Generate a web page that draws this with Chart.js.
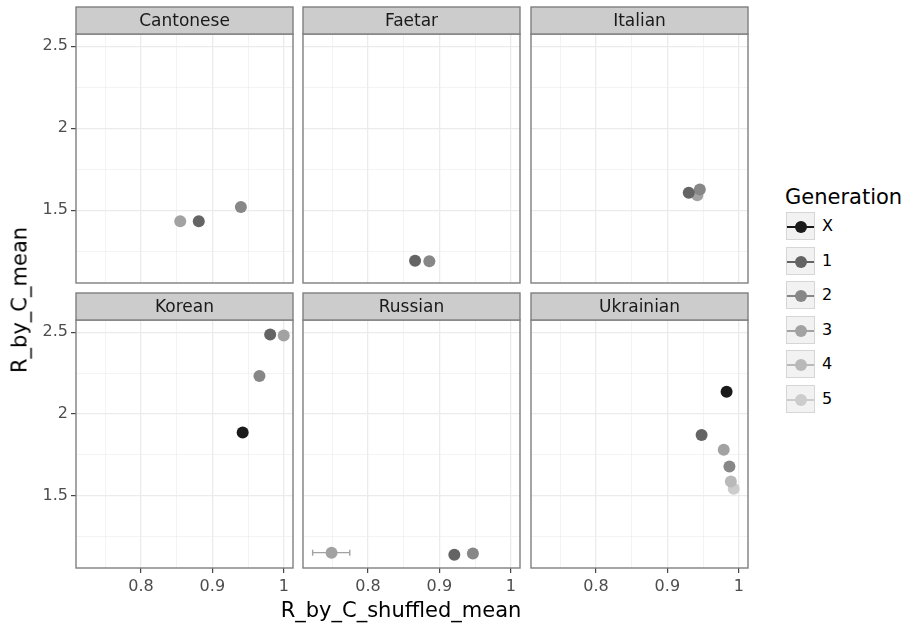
<!DOCTYPE html>
<html>
<head>
<meta charset="utf-8">
<script src="https://cdn.jsdelivr.net/npm/chart.js@4"></script>
<style>
  body { margin: 0; background: #fff; width: 908px; height: 626px; overflow: hidden; position: relative; font-family: "DejaVu Sans", sans-serif; }
  canvas { position: absolute; }
  .txt { position: absolute; white-space: nowrap; line-height: 1; }
  .key { position: absolute; width: 29px; height: 28px; background: #f2f2f2; border: 1px solid #d6d6d6; box-sizing: border-box; }
  .key .ln { position: absolute; left: 0; right: 0; top: 13px; height: 2px; }
  .key .dot { position: absolute; left: 8px; top: 8px; width: 12px; height: 12px; border-radius: 50%; }
</style>
</head>
<body>
<script>
// facets and legend
const languages = ['Cantonese', 'Faetar', 'Italian', 'Korean', 'Russian', 'Ukrainian'];
const generations = ['X', '1', '2', '3', '4', '5'];
const genColors = ['#1a1a1a', '#646464', '#878787', '#a2a2a2', '#b9b9b9', '#cccccc'];

// axis ticks
const xMajor = [0.8, 0.9, 1];
const xMinor = [0.75, 0.85, 0.95];
const yMajor = [1.5, 2, 2.5];
const yMinor = [1.25, 1.75, 2.25];

// values, one set per facet
const cantoneseGen = ['1', '2', '3'];
const cantoneseX = [0.881, 0.940, 0.855];
const cantoneseY = [1.433, 1.520, 1.433];

const faetarGen = ['1', '2'];
const faetarX = [0.866, 0.886];
const faetarY = [1.192, 1.188];

const italianGen = ['1', '2', '3'];
const italianX = [0.930, 0.9455, 0.942];
const italianY = [1.606, 1.627, 1.592];

const koreanGen = ['X', '1', '2', '3'];
const koreanX = [0.9425, 0.981, 0.966, 1.0];
const koreanY = [1.886, 2.486, 2.232, 2.480];

const russianGen = ['1', '2', '3'];
const russianX = [0.921, 0.947, 0.749];
const russianY = [1.137, 1.145, 1.150];
const russianXLow = [0.921, 0.947, 0.7225];
const russianXHigh = [0.921, 0.947, 0.7745];

const ukrainianGen = ['X', '1', '2', '3', '4', '5'];
const ukrainianX = [0.983, 0.948, 0.987, 0.979, 0.989, 0.993];
const ukrainianY = [2.136, 1.870, 1.677, 1.780, 1.586, 1.541];

const panels = [
  { gen: cantoneseGen, x: cantoneseX, y: cantoneseY },
  { gen: faetarGen, x: faetarX, y: faetarY },
  { gen: italianGen, x: italianX, y: italianY },
  { gen: koreanGen, x: koreanX, y: koreanY },
  { gen: russianGen, x: russianX, y: russianY, lo: russianXLow, hi: russianXHigh },
  { gen: ukrainianGen, x: ukrainianX, y: ukrainianY }
];

// layout
const colLeft = [76, 303, 531];
const panelW = 217;
const stripTop = [7, 293];
const stripH = 27;
const panelH = [249, 248];
const pad = 7; // must exceed the point overflow chart.js reserves

const isIn = (arr, v) => arr.some(a => Math.abs(a - v) < 1e-6);

const stripPlugin = {
  id: 'strip',
  beforeDatasetsDraw(chart) {
    const { ctx } = chart;
    const p = chart.options.plugins.strip;
    if (!p.lo) return;
    const xs = chart.scales.x, ys = chart.scales.y;
    ctx.save();
    ctx.lineWidth = 1.4;
    p.lo.forEach((lo, i) => {
      const hi = p.hi[i];
      if (hi - lo < 1e-6) return;
      const y = ys.getPixelForValue(p.yv[i]);
      const x0 = xs.getPixelForValue(lo), x1 = xs.getPixelForValue(hi);
      ctx.strokeStyle = genColors[generations.indexOf(p.gen[i])];
      ctx.beginPath();
      ctx.moveTo(x0, y); ctx.lineTo(x1, y);
      ctx.moveTo(x0, y - 3); ctx.lineTo(x0, y + 3);
      ctx.moveTo(x1, y - 3); ctx.lineTo(x1, y + 3);
      ctx.stroke();
    });
    ctx.restore();
  },
  afterDraw(chart) {
    const { ctx, chartArea: a } = chart;
    const p = chart.options.plugins.strip;
    ctx.save();
    ctx.strokeStyle = '#7f7f7f';
    ctx.lineWidth = 1.4;
    ctx.strokeRect(a.left, a.top, a.width, a.height);
    ctx.fillStyle = '#cccccc';
    ctx.fillRect(a.left, a.top - stripH, a.width, stripH);
    ctx.strokeRect(a.left, a.top - stripH, a.width, stripH);
    ctx.fillStyle = '#1a1a1a';
    ctx.font = '17px "DejaVu Sans"';
    ctx.textAlign = 'center';
    ctx.textBaseline = 'middle';
    ctx.fillText(p.text, (a.left + a.right) / 2, a.top - stripH / 2 + 1);
    ctx.restore();
  }
};

panels.forEach((pn, idx) => {
  const row = Math.floor(idx / 3), col = idx % 3;
  const showY = col === 0, showX = row === 1;
  const yAxisW = showY ? colLeft[0] : pad;
  const xAxisH = showX ? 34 : pad;
  const left = showY ? 0 : colLeft[col] - pad;
  const top = stripTop[row] - pad;
  const w = yAxisW + panelW + pad;
  const h = pad + stripH + panelH[row] + xAxisH;

  const cv = document.createElement('canvas');
  cv.width = w; cv.height = h;
  cv.style.left = left + 'px'; cv.style.top = top + 'px';
  cv.style.width = w + 'px'; cv.style.height = h + 'px';
  document.body.appendChild(cv);

  // one dataset per generation, X first so it ends up on top
  const datasets = generations.filter(g => pn.gen.includes(g)).map(g => {
    const gi = generations.indexOf(g);
    const data = [];
    pn.gen.forEach((pg, i) => { if (pg === g) data.push({ x: pn.x[i], y: pn.y[i] }); });
    return {
      label: g, data,
      backgroundColor: genColors[gi], borderColor: genColors[gi],
      pointRadius: 6, pointHoverRadius: 6, pointBorderWidth: 0
    };
  });

  const gridOpts = (major) => ({
    color: '#ebebeb',
    lineWidth: c => isIn(major, c.tick.value) ? 1.3 : 0.6,
    tickColor: c => isIn(major, c.tick.value) ? '#333333' : 'rgba(0,0,0,0)',
    tickWidth: 1.1,
    tickLength: 5
  });

  new Chart(cv.getContext('2d'), {
    type: 'scatter',
    data: { datasets },
    options: {
      responsive: false,
      animation: false,
      devicePixelRatio: 1,
      layout: { padding: { top: pad + stripH, right: pad, left: 0, bottom: 0 } },
      plugins: {
        legend: { display: false },
        tooltip: { enabled: false },
        strip: { text: languages[idx], lo: pn.lo, hi: pn.hi, yv: pn.y, gen: pn.gen }
      },
      scales: {
        x: {
          type: 'linear', min: 0.709, max: 1.013,
          border: { display: false },
          grid: Object.assign(gridOpts(xMajor), { drawTicks: showX }),
          ticks: {
            display: showX, padding: 4, color: '#4d4d4d',
            font: { family: 'DejaVu Sans', size: 16 },
            autoSkip: false, maxRotation: 0,
            callback: v => isIn(xMajor, v) ? String(v) : ''
          },
          afterBuildTicks: s => { s.ticks = xMinor.concat(xMajor).sort((a, b) => a - b).map(v => ({ value: v })); },
          afterFit: s => { s.height = xAxisH; s.paddingLeft = 0; s.paddingRight = 0; }
        },
        y: {
          type: 'linear', min: 1.056, max: 2.575,
          border: { display: false },
          grid: Object.assign(gridOpts(yMajor), { drawTicks: showY }),
          ticks: {
            display: showY, padding: 3, color: '#4d4d4d',
            font: { family: 'DejaVu Sans', size: 16 },
            autoSkip: false,
            callback: v => isIn(yMajor, v) ? String(v) : ''
          },
          afterBuildTicks: s => { s.ticks = yMinor.concat(yMajor).sort((a, b) => a - b).map(v => ({ value: v })); },
          afterFit: s => { s.width = yAxisW; s.paddingTop = 0; s.paddingBottom = 0; }
        }
      }
    },
    plugins: [stripPlugin]
  });
});

// axis titles
const xt = document.createElement('div');
xt.className = 'txt';
xt.textContent = 'R_by_C_shuffled_mean';
xt.style.cssText = 'font-size:21px;left:401px;top:600px;transform:translateX(-50%);';
document.body.appendChild(xt);

const yt = document.createElement('div');
yt.className = 'txt';
yt.textContent = 'R_by_C_mean';
yt.style.cssText = 'font-size:21px;left:20px;top:300px;transform:translate(-50%,-50%) rotate(-90deg);';
document.body.appendChild(yt);

// legend
const lt = document.createElement('div');
lt.className = 'txt';
lt.textContent = 'Generation';
lt.style.cssText = 'font-size:21px;left:785px;top:187px;';
document.body.appendChild(lt);

generations.forEach((g, i) => {
  const ky = 212 + i * 34.5;
  const k = document.createElement('div');
  k.className = 'key';
  k.style.left = '786px'; k.style.top = ky + 'px';
  k.innerHTML = '<div class="ln" style="background:' + genColors[i] + '"></div><div class="dot" style="background:' + genColors[i] + '"></div>';
  document.body.appendChild(k);
  const lb = document.createElement('div');
  lb.className = 'txt';
  lb.textContent = g;
  lb.style.cssText = 'font-size:16px;left:822px;top:' + (ky + 6) + 'px;';
  document.body.appendChild(lb);
});
</script>
</body>
</html>
